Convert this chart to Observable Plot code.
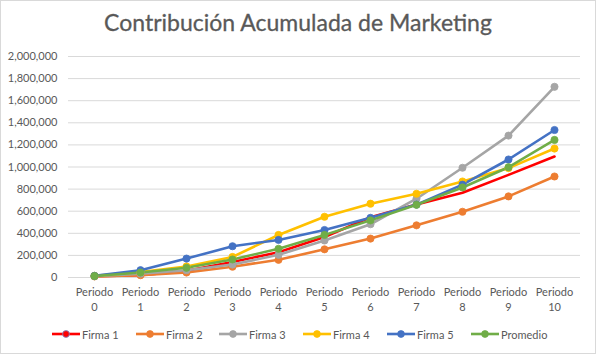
<!DOCTYPE html>
<html>
<head>
<meta charset="utf-8">
<script src="https://cdn.jsdelivr.net/npm/d3@7"></script>
<script src="https://cdn.jsdelivr.net/npm/@observablehq/plot@0.6"></script>
<style>
  body { margin: 0; background: #fff; }
  #wrap { position: relative; width: 596px; height: 354px; overflow: hidden; background: #fff;
          font-family: Lato, "Open Sans", sans-serif; color: #595959; }
  #title { position: absolute; left: 0; top: 8px; width: 596px; text-align: center;
           font-size: 23px; color: #595959; white-space: nowrap; -webkit-text-stroke: 0.3px #595959; }
  #chart { position: absolute; left: 0; top: 0; }
  #legend { position: absolute; left: 0; top: 326px; width: 596px; height: 16px; }
  .item { position: absolute; top: 0; height: 16px; display: flex; align-items: center;
          font-size: 11px; color: #595959; white-space: nowrap; }
  .item svg { margin-right: 2px; }
  #border { position: absolute; left: 0; top: 0; width: 596px; height: 354px; box-sizing: border-box;
            border: 1px solid #d9d9d9; pointer-events: none; }
</style>
</head>
<body>
<div id="wrap">
  <div id="chart"></div>
  <div id="title">Contribución Acumulada de Marketing</div>
  <div id="legend"></div>
  <div id="border"></div>
</div>
<script>
// ---- Data ----
const periods = ["0", "1", "2", "3", "4", "5", "6", "7", "8", "9", "10"];
const seriesNames = ["Firma 1", "Firma 2", "Firma 3", "Firma 4", "Firma 5", "Promedio"];
const seriesColors = ["#FF0000", "#ED7D31", "#A5A5A5", "#FFC000", "#4472C4", "#70AD47"];
const firma1 = [12000, 21000, 60000, 141000, 228000, 367000, 545000, 660000, 767000, 929000, 1095000];
const firma2 = [10000, 21000, 45000, 98000, 160000, 255000, 352000, 472000, 595000, 734000, 914000];
const firma3 = [12000, 35000, 66000, 117000, 205000, 335000, 482000, 713000, 993000, 1284000, 1726000];
const firma4 = [15000, 50000, 100000, 186000, 385000, 550000, 668000, 758000, 869000, 990000, 1167000];
const firma5 = [15000, 66000, 171000, 283000, 340000, 430000, 540000, 660000, 840000, 1068000, 1335000];
const promedio = [13000, 45000, 88000, 163000, 260000, 385000, 517000, 658000, 815000, 998000, 1245000];
const yTicks = [0, 200000, 400000, 600000, 800000, 1000000, 1200000, 1400000, 1600000, 1800000, 2000000];

const seriesValues = [firma1, firma2, firma3, firma4, firma5, promedio];
const rows = [];
seriesNames.forEach((name, i) => {
  periods.forEach((p, j) => rows.push({serie: name, periodo: p, valor: seriesValues[i][j]}));
});

const fmt = d3.format(",");
const chart = Plot.plot({
  width: 596,
  height: 354,
  marginTop: 56,
  marginBottom: 77,
  marginLeft: 68,
  marginRight: 16,
  style: {fontFamily: "Lato, 'Open Sans', sans-serif", fontSize: "11px", color: "#595959", background: "transparent"},
  x: {type: "point", domain: periods, padding: 0.5},
  y: {domain: [0, 2000000]},
  color: {domain: seriesNames, range: seriesColors},
  marks: [
    Plot.gridY(yTicks, {stroke: "#d9d9d9", strokeOpacity: 1, strokeWidth: 1}),
    Plot.axisY(yTicks, {tickSize: 0, tickPadding: 11, tickFormat: fmt, fill: "#595959", fontSize: 11, label: null}),
    Plot.axisX(periods, {tickSize: 0, tickPadding: 7, tickFormat: d => "Periodo\n" + d, lineHeight: 1.42,
                         fill: "#595959", fontSize: 11, label: null}),
    Plot.line(rows, {x: "periodo", y: "valor", z: "serie", stroke: "serie", strokeWidth: 2.6,
                     strokeLinejoin: "round", strokeLinecap: "round"}),
    Plot.dot(rows, {x: "periodo", y: "valor", fill: "serie", r: 3.6,
                    stroke: d => d.serie === "Firma 1" ? "#6f8fd6" : d.serie,
                    strokeWidth: 0.8})
  ]
});
document.getElementById("chart").appendChild(chart);

// ---- Legend ----
const legend = document.getElementById("legend");
const legendX = [52, 136, 219, 303, 387, 471];
seriesNames.forEach((name, i) => {
  const item = document.createElement("div");
  item.className = "item";
  item.style.left = legendX[i] + "px";
  const c = seriesColors[i];
  const ms = name === "Firma 1" ? "#6f8fd6" : c;
  item.innerHTML = `<svg width="28" height="16"><line x1="0" y1="8" x2="28" y2="8" stroke="${c}" stroke-width="2.6"/>` +
    `<circle cx="14" cy="8" r="3.4" fill="${c}" stroke="${ms}" stroke-width="0.8"/></svg><span>${name}</span>`;
  legend.appendChild(item);
});
</script>
</body>
</html>
